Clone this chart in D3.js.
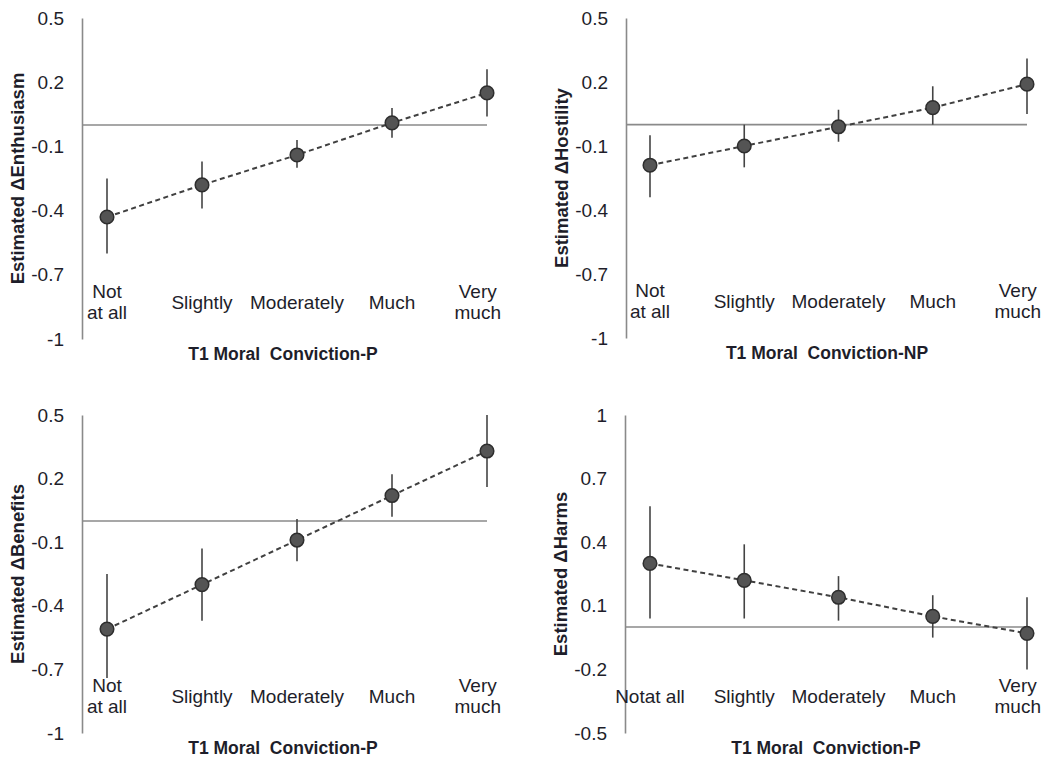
<!DOCTYPE html>
<html>
<head>
<meta charset="utf-8">
<script src="https://cdn.jsdelivr.net/npm/d3@7"></script>
<style>
  body { margin: 0; background: #fff; }
  svg { display: block; }
  text { font-family: "Liberation Sans", Arial, sans-serif; fill: #1e1e2a; }
</style>
</head>
<body>
<div id="chart"></div>
<script>
// Categories (x axis)
const categories = ["Not at all", "Slightly", "Moderately", "Much", "Very much"];
const labelsSplit = [["Not", "at all"], ["Slightly"], ["Moderately"], ["Much"], ["Very", "much"]];
const labelsHarms = [["Notat all"], ["Slightly"], ["Moderately"], ["Much"], ["Very", "much"]];

// Tick labels
const ticksMain = [0.5, 0.2, -0.1, -0.4, -0.7, -1];
const ticksHarms = [1, 0.7, 0.4, 0.1, -0.2, -0.5];

// Estimates and error bars
const enthusiasmEst = [-0.43, -0.28, -0.14, 0.01, 0.15];
const enthusiasmLo  = [-0.60, -0.39, -0.20, -0.06, 0.04];
const enthusiasmHi  = [-0.25, -0.17, -0.07, 0.08, 0.26];

const hostilityEst = [-0.19, -0.10, -0.01, 0.08, 0.19];
const hostilityLo  = [-0.34, -0.20, -0.08, 0.00, 0.05];
const hostilityHi  = [-0.05, 0.00, 0.07, 0.18, 0.31];

const benefitsEst = [-0.51, -0.30, -0.09, 0.12, 0.33];
const benefitsLo  = [-0.74, -0.47, -0.19, 0.02, 0.16];
const benefitsHi  = [-0.25, -0.13, 0.01, 0.22, 0.50];

const harmsEst = [0.30, 0.22, 0.14, 0.05, -0.03];
const harmsLo  = [0.04, 0.04, 0.03, -0.05, -0.20];
const harmsHi  = [0.57, 0.39, 0.24, 0.15, 0.14];

const width = 1046;
const height = 761;

const svg = d3.select("#chart").append("svg")
  .attr("width", width)
  .attr("height", height);

// Panel layout
const panels = [
  { axisX: 82, top: 18, bottom: 339, x0: 107, x1: 487, right: 501,
    est: enthusiasmEst, lo: enthusiasmLo, hi: enthusiasmHi, ticks: ticksMain, labels: labelsSplit,
    yTitle: "Estimated ΔEnthusiasm", xTitle: "T1 Moral  Conviction-P" },
  { axisX: 626, top: 18, bottom: 338, x0: 650, x1: 1027, right: 1041,
    est: hostilityEst, lo: hostilityLo, hi: hostilityHi, ticks: ticksMain, labels: labelsSplit,
    yTitle: "Estimated ΔHostility", xTitle: "T1 Moral  Conviction-NP" },
  { axisX: 82, top: 415, bottom: 733, x0: 107, x1: 487, right: 501,
    est: benefitsEst, lo: benefitsLo, hi: benefitsHi, ticks: ticksMain, labels: labelsSplit,
    yTitle: "Estimated ΔBenefits", xTitle: "T1 Moral  Conviction-P" },
  { axisX: 625, top: 415, bottom: 733, x0: 650, x1: 1027, right: 1041,
    est: harmsEst, lo: harmsLo, hi: harmsHi, ticks: ticksHarms, labels: labelsHarms,
    yTitle: "Estimated ΔHarms", xTitle: "T1 Moral  Conviction-P" }
];

panels.forEach(p => {
  const g = svg.append("g");

  const x = d3.scalePoint()
    .domain(categories)
    .range([p.x0, p.x1]);

  const y = d3.scaleLinear()
    .domain(d3.extent(p.ticks))
    .range([p.bottom, p.top]);

  // y axis line + tick labels
  const axis = g.append("g")
    .attr("transform", `translate(${p.axisX},0)`)
    .call(d3.axisLeft(y).tickValues(p.ticks).tickSize(0).tickPadding(18)
      .tickFormat(d => String(d)));
  axis.select(".domain").attr("stroke", "#8a8a8a").attr("stroke-width", 1.6);
  axis.selectAll("text")
    .attr("font-size", 19)
    .attr("font-family", "Liberation Sans, Arial, sans-serif")
    .attr("fill", "#1e1e2a");

  // zero line
  g.append("line")
    .attr("x1", p.axisX)
    .attr("x2", x(categories[categories.length - 1]))
    .attr("y1", y(0))
    .attr("y2", y(0))
    .attr("stroke", "#8a8a8a")
    .attr("stroke-width", 1.6);

  // category labels
  const lab = g.append("g")
    .selectAll("text")
    .data(categories)
    .join("text")
    .attr("text-anchor", "middle")
    .attr("font-size", 19);
  lab.each(function (c, i) {
    const lines = p.labels[i];
    const t = d3.select(this);
    const cy = p.bottom - 37;
    lines.forEach((ln, k) => {
      t.append("tspan")
        .attr("x", x(c))
        .attr("y", cy + (k - (lines.length - 1) / 2) * 21)
        .attr("dy", "0.35em")
        .text(ln);
    });
    // keep the label inside the plot area
    const w = this.getBBox().width;
    const over = x(c) + w / 2 - p.right;
    if (over > 0) t.selectAll("tspan").attr("x", x(c) - over);
  });

  // dashed trend line
  const line = d3.line()
    .x((d, i) => x(categories[i]))
    .y(d => y(d));
  g.append("path")
    .datum(p.est)
    .attr("fill", "none")
    .attr("stroke", "#404040")
    .attr("stroke-width", 2)
    .attr("stroke-dasharray", "5,3.5")
    .attr("d", line);

  // error bars
  g.append("g")
    .selectAll("line")
    .data(categories)
    .join("line")
    .attr("x1", d => x(d))
    .attr("x2", d => x(d))
    .attr("y1", (d, i) => y(p.lo[i]))
    .attr("y2", (d, i) => y(p.hi[i]))
    .attr("stroke", "#444")
    .attr("stroke-width", 1.6);

  // points
  g.append("g")
    .selectAll("circle")
    .data(categories)
    .join("circle")
    .attr("cx", d => x(d))
    .attr("cy", (d, i) => y(p.est[i]))
    .attr("r", 6.8)
    .attr("fill", "#545454")
    .attr("stroke", "#2e2e2e")
    .attr("stroke-width", 1.5);

  // axis titles
  g.append("text")
    .attr("transform", `translate(${p.axisX - 64},${(p.top + p.bottom) / 2}) rotate(-90)`)
    .attr("text-anchor", "middle")
    .attr("dy", "0.35em")
    .attr("font-size", 18.5)
    .attr("font-weight", "bold")
    .text(p.yTitle);

  g.append("text")
    .attr("x", p.axisX + 201)
    .attr("y", p.bottom + 14.5)
    .attr("dy", "0.35em")
    .attr("text-anchor", "middle")
    .attr("font-size", 17.5)
    .attr("font-weight", "bold")
    .style("white-space", "pre")
    .text(p.xTitle);
});
</script>
</body>
</html>
